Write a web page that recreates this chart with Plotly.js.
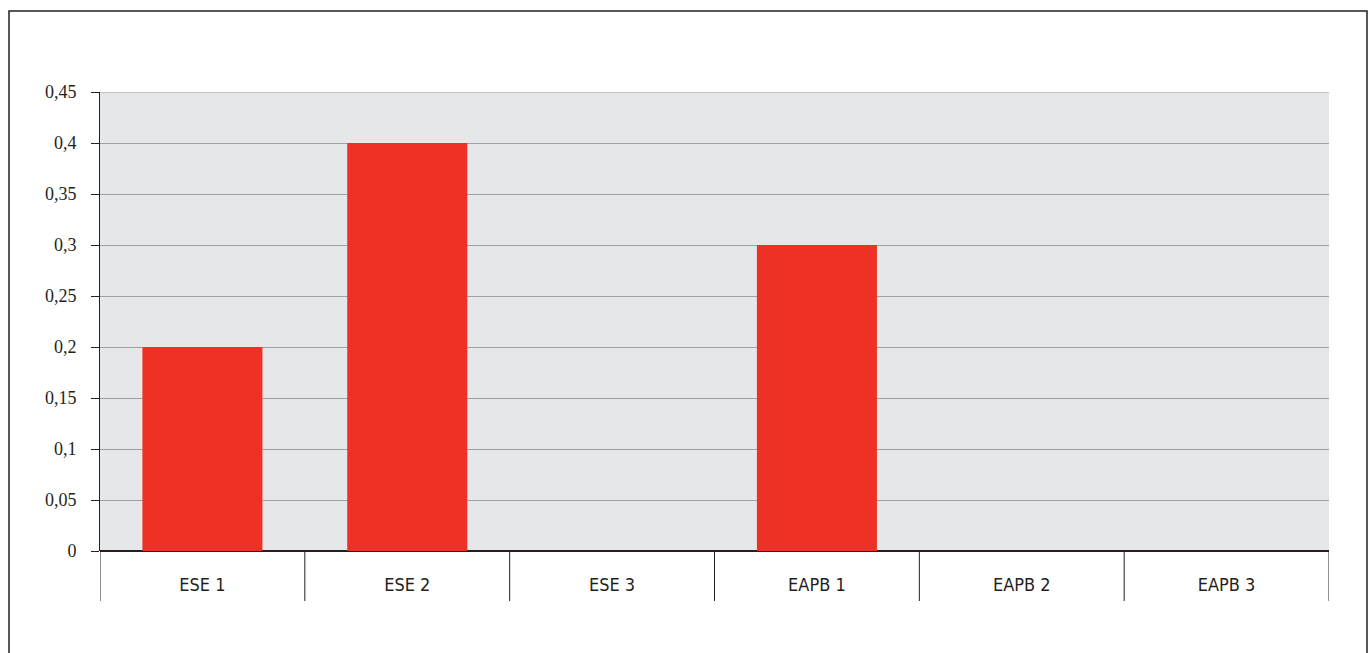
<!DOCTYPE html>
<html>
<head>
<meta charset="utf-8">
<script src="https://cdn.plot.ly/plotly-3.0.1.min.js"></script>
<style>
  html, body { margin: 0; padding: 0; background: #ffffff; }
  #chart { width: 1370px; height: 653px; }
</style>
</head>
<body>
<div id="chart"></div>
<script>
// Categories and values
const categories = ["ESE 1", "ESE 2", "ESE 3", "EAPB 1", "EAPB 2", "EAPB 3"];
const values = [0.2, 0.4, 0, 0.3, 0, 0];
const yTicks = [0, 0.05, 0.1, 0.15, 0.2, 0.25, 0.3, 0.35, 0.4, 0.45];

const trace = {
  type: "bar",
  x: categories,
  y: values,
  marker: { color: "#ee3124", line: { width: 0 } },
  hoverinfo: "x+y"
};

// Plot area in pixels
const W = 1370, H = 653;
const L = 100, R = 41, T = 92, B = 102;
const pw = W - L - R, ph = H - T - B;

const shapes = [];
// Category separators that drop below the axis
for (let i = 0; i <= categories.length; i++) {
  shapes.push({
    type: "line", xref: "x", yref: "paper",
    x0: i - 0.5, x1: i - 0.5, y0: 0, y1: -50 / ph,
    line: { color: "#231f20", width: 1 }
  });
}
// Top gridline at the last tick
shapes.push({
  type: "line", xref: "paper", yref: "y",
  x0: 0, x1: 1, y0: yTicks[yTicks.length - 1], y1: yTicks[yTicks.length - 1],
  line: { color: "#9d9fa2", width: 1 }, layer: "below"
});
// Outer frame
shapes.push({
  type: "rect", xref: "paper", yref: "paper",
  x0: (9 - L) / pw, x1: (1367 - L) / pw,
  y0: -(H + 20 - T - ph) / ph, y1: (T + ph - 11) / ph,
  line: { color: "#231f20", width: 1.5 },
  fillcolor: "rgba(0,0,0,0)", layer: "below"
});

const layout = {
  width: W, height: H,
  margin: { l: L, r: R, t: T, b: B, pad: 0 },
  paper_bgcolor: "#ffffff",
  plot_bgcolor: "#e6e7e8",
  separators: ",.",
  showlegend: false,
  bargap: 0.414,
  xaxis: {
    type: "category",
    range: [-0.5, categories.length - 0.5],
    showgrid: false,
    showline: false,
    ticks: "",
    zeroline: false,
    tickfont: { family: "DejaVu Sans Condensed", size: 18, color: "#231f20" },
    ticklabelstandoff: 21
  },
  yaxis: {
    range: [0, 0.45],
    tickvals: yTicks,
    showgrid: true,
    gridcolor: "#9d9fa2",
    gridwidth: 1,
    zeroline: true,
    zerolinecolor: "#231f20",
    zerolinewidth: 1.5,
    showline: true,
    linecolor: "#231f20",
    linewidth: 1,
    ticks: "outside",
    ticklen: 8,
    tickwidth: 1,
    tickcolor: "#231f20",
    ticklabelstandoff: 11,
    tickfont: { family: "Liberation Serif", size: 18, color: "#231f20" }
  },
  shapes: shapes
};

Plotly.newPlot("chart", [trace], layout, { displayModeBar: false, staticPlot: true });
</script>
</body>
</html>
